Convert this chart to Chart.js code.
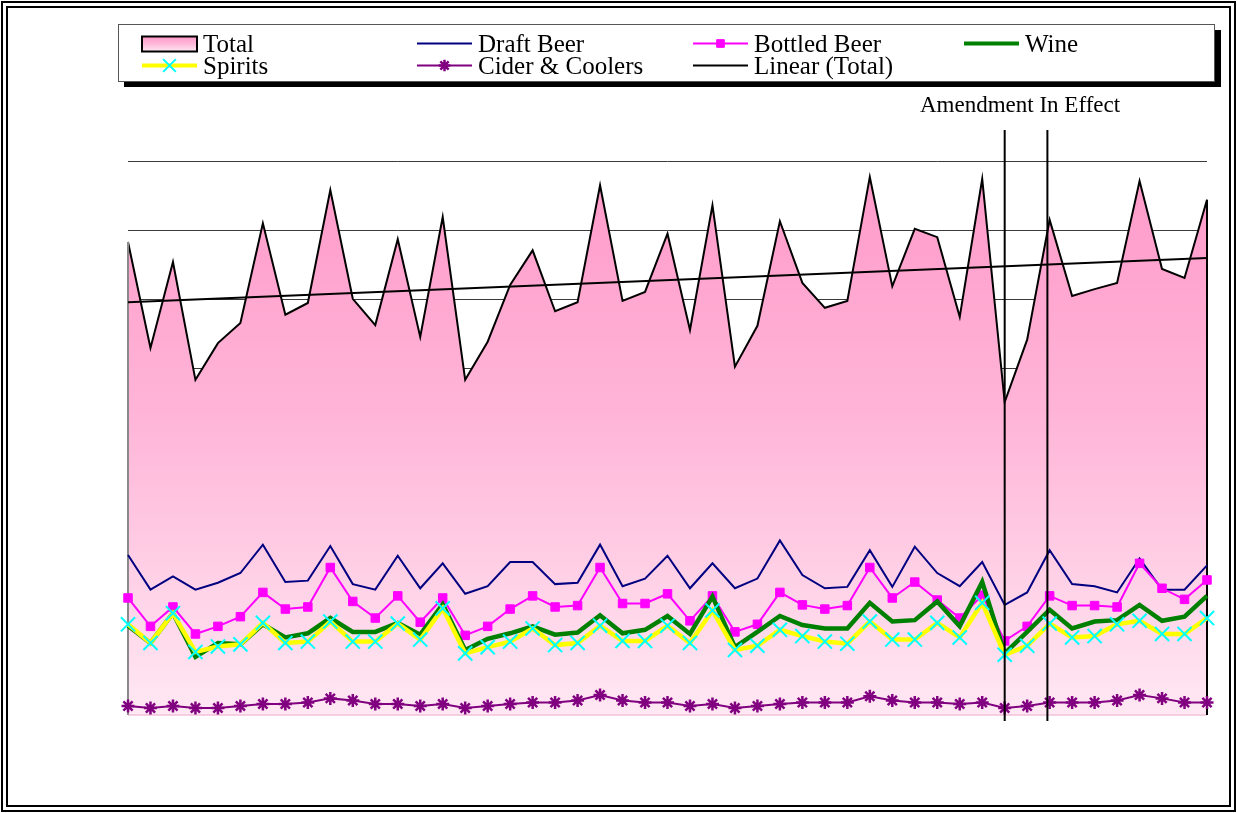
<!DOCTYPE html>
<html>
<head>
<meta charset="utf-8">
<title>Sales by category</title>
<script src="https://cdn.jsdelivr.net/npm/chart.js@4/dist/chart.umd.min.js"></script>
<style>
  html, body { margin: 0; padding: 0; background: #fff; }
  #wrap { position: relative; width: 1237px; height: 813px; }
</style>
</head>
<body>
<div id="wrap"><canvas id="chart"></canvas></div>
<script>
// periods along the x axis (the original shows no labels for them)
const periods = [1, 2, 3, 4, 5, 6, 7, 8, 9, 10, 11, 12, 13, 14, 15, 16, 17, 18, 19, 20,
  21, 22, 23, 24, 25, 26, 27, 28, 29, 30, 31, 32, 33, 34, 35, 36, 37, 38, 39, 40,
  41, 42, 43, 44, 45, 46, 47, 48, 49];

const total = [683, 530, 654, 484, 537, 566, 710, 578, 595, 758, 601, 563, 687, 546, 719, 484, 539,
  621, 671, 583, 596, 765, 598, 611, 695, 556, 736, 503, 562, 713, 624, 588, 598, 777, 619, 702, 690,
  575, 774, 452, 542, 715, 605, 615, 624, 771, 644, 631, 744];
const draftBeer = [231, 181, 200, 181, 191, 205, 246, 192, 194, 244, 189, 181, 230, 183, 219, 175, 186,
  221, 221, 189, 191, 246, 186, 197, 230, 183, 219, 183, 197, 252, 202, 183, 185, 238, 185, 243, 205,
  186, 221, 159, 177, 238, 189, 186, 177, 226, 181, 181, 216];
const bottledBeer = [169, 128, 156, 117, 128, 142, 177, 153, 156, 213, 164, 140, 172, 134, 169, 115, 128,
  153, 172, 156, 158, 213, 161, 161, 175, 136, 172, 120, 131, 177, 159, 153, 158, 213, 169, 192, 166,
  140, 173, 107, 128, 172, 158, 158, 156, 219, 183, 167, 195];
const wine = [129, 104, 147, 84, 104, 102, 131, 112, 118, 140, 120, 120, 133, 116, 160, 94, 110,
  118, 128, 116, 119, 144, 118, 123, 143, 117, 171, 98, 120, 143, 130, 125, 125, 162, 135, 137, 164,
  128, 192, 89, 120, 152, 125, 135, 137, 159, 136, 142, 172];
const spirits = [131, 104, 147, 91, 99, 102, 133, 104, 106, 135, 106, 106, 132, 109, 154, 89, 98,
  106, 125, 101, 104, 129, 107, 107, 129, 104, 151, 94, 100, 123, 114, 106, 103, 135, 109, 109, 133,
  112, 162, 87, 100, 132, 112, 114, 131, 136, 117, 117, 140];
const ciderCoolers = [13, 10, 13, 10, 10, 13, 16, 16, 18, 24, 21, 16, 16, 13, 16, 10, 13,
  16, 18, 18, 21, 29, 21, 18, 18, 13, 16, 10, 13, 16, 18, 18, 18, 27, 21, 18, 18,
  16, 18, 10, 13, 18, 18, 18, 21, 29, 24, 18, 18];

// start and end of the linear trend of Total
const totalTrend = [596, 660];

// value axis (no tick labels are printed, only gridlines)
const yMin = 0;
const yMax = 800;
const yStep = 100;

// the two amendment markers, in period-index units
const amendmentAt = [39, 40.9];
const amendmentText = 'Amendment In Effect';

const SERIF = '"Liberation Serif", "Times New Roman", serif';

function pinkGradient(ctx, top, bottom) {
  const g = ctx.createLinearGradient(0, top, 0, bottom);
  g.addColorStop(0, '#ff99c9');
  g.addColorStop(0.45, '#ffb4d7');
  g.addColorStop(1, '#ffe8f3');
  return g;
}

const last = periods.length - 1;
const trendData = periods.map((p, i) => i === 0 ? totalTrend[0] : (i === last ? totalTrend[1] : null));

// edges of the Total area: grey left side, black right side, pale pink floor
const areaEdges = {
  id: 'areaEdges',
  afterDatasetDraw(chart, args) {
    if (chart.data.datasets[args.index].label !== 'Total') return;
    const pts = args.meta.data;
    const a = pts[0], b = pts[pts.length - 1];
    const bottom = chart.chartArea.bottom;
    const ctx = chart.ctx;
    ctx.save();
    ctx.lineWidth = 1.5;
    ctx.strokeStyle = '#f0c2d8';
    ctx.beginPath(); ctx.moveTo(a.x, bottom); ctx.lineTo(b.x, bottom); ctx.stroke();
    ctx.lineWidth = 2;
    ctx.strokeStyle = '#8a8a8a';
    ctx.beginPath(); ctx.moveTo(a.x, a.y); ctx.lineTo(a.x, bottom); ctx.stroke();
    ctx.strokeStyle = '#000';
    ctx.beginPath(); ctx.moveTo(b.x, b.y); ctx.lineTo(b.x, bottom); ctx.stroke();
    ctx.restore();
  }
};

const amendment = {
  id: 'amendment',
  afterDatasetsDraw(chart) {
    const ctx = chart.ctx, area = chart.chartArea, x = chart.scales.x;
    const xs = amendmentAt.map(v => x.getPixelForValue(v));
    ctx.save();
    ctx.strokeStyle = '#000';
    ctx.lineWidth = 2;
    xs.forEach(px => {
      ctx.beginPath();
      ctx.moveTo(px, area.top - 31);
      ctx.lineTo(px, area.bottom + 6);
      ctx.stroke();
    });
    ctx.fillStyle = '#000';
    ctx.font = '23px ' + SERIF;
    ctx.textAlign = 'center';
    ctx.textBaseline = 'alphabetic';
    ctx.fillText(amendmentText, (xs[0] + xs[1]) / 2 - 6, area.top - 49);
    ctx.restore();
  }
};

// legend in a box with a drop shadow, four fixed columns and two rows
const legendCols = [142, 417, 693, 964];
const legendRows = [43.5, 65.5];
const legendSlots = {
  'Total': [0, 0], 'Draft Beer': [1, 0], 'Bottled Beer': [2, 0], 'Wine': [3, 0],
  'Spirits': [0, 1], 'Cider & Coolers': [1, 1], 'Linear (Total)': [2, 1]
};

const boxLegend = {
  id: 'boxLegend',
  afterDraw(chart) {
    const ctx = chart.ctx;
    ctx.save();
    ctx.fillStyle = '#000';
    ctx.fillRect(124, 30, 1097, 57);
    ctx.fillStyle = '#fff';
    ctx.fillRect(118, 24, 1096, 57);
    ctx.strokeStyle = '#555';
    ctx.lineWidth = 1;
    ctx.strokeRect(118.5, 24.5, 1096, 57);

    chart.data.datasets.forEach(ds => {
      const slot = legendSlots[ds.label];
      if (!slot) return;
      const x0 = legendCols[slot[0]], y = legendRows[slot[1]];
      if (ds.label === 'Total') {
        ctx.fillStyle = pinkGradient(ctx, y - 7, y + 8);
        ctx.fillRect(x0, y - 7, 55, 15);
        ctx.strokeStyle = '#000';
        ctx.lineWidth = 2;
        ctx.strokeRect(x0, y - 7, 55, 15);
      } else {
        ctx.strokeStyle = ds.borderColor;
        ctx.lineWidth = Math.min(ds.borderWidth, 4);
        ctx.beginPath(); ctx.moveTo(x0, y); ctx.lineTo(x0 + 55, y); ctx.stroke();
        if (ds.pointRadius > 0 && Chart.helpers && Chart.helpers.drawPoint) {
          ctx.fillStyle = ds.pointBackgroundColor;
          ctx.strokeStyle = ds.pointBorderColor;
          ctx.lineWidth = ds.pointBorderWidth;
          Chart.helpers.drawPoint(ctx, {
            pointStyle: ds.pointStyle, rotation: 0,
            radius: ds.pointRadius * 0.9, borderWidth: ds.pointBorderWidth
          }, x0 + 27.5, y);
        }
      }
      ctx.fillStyle = '#000';
      ctx.font = '25px ' + SERIF;
      ctx.textAlign = 'left';
      ctx.textBaseline = 'alphabetic';
      ctx.fillText(ds.label, x0 + 61, y + 8);
    });

    // double frame round the whole chart
    const w = chart.width, h = chart.height;
    ctx.strokeStyle = '#000';
    ctx.lineWidth = 2;
    ctx.strokeRect(2, 2, w - 4, h - 4);
    ctx.strokeRect(7, 7, w - 14, h - 14);
    ctx.restore();
  }
};

const ctx = document.getElementById('chart').getContext('2d');

new Chart(ctx, {
  type: 'line',
  data: {
    labels: periods,
    datasets: [
      {
        label: 'Total', data: total, order: 6,
        borderColor: '#000', borderWidth: 2, pointRadius: 0, fill: 'origin',
        backgroundColor: c => {
          const area = c.chart.chartArea;
          if (!area) return '#ffb4d7';
          return pinkGradient(c.chart.ctx, area.top, area.bottom);
        }
      },
      {
        label: 'Draft Beer', data: draftBeer, order: 5,
        borderColor: '#000080', borderWidth: 2, pointRadius: 0
      },
      {
        label: 'Bottled Beer', data: bottledBeer, order: 4,
        borderColor: '#ff00ff', borderWidth: 2,
        pointStyle: 'rect', pointRadius: 6,
        pointBackgroundColor: '#ff00ff', pointBorderColor: '#ff00ff', pointBorderWidth: 1
      },
      {
        label: 'Wine', data: wine, order: 3,
        borderColor: '#008000', borderWidth: 4.5, pointRadius: 0
      },
      {
        label: 'Spirits', data: spirits, order: 2,
        borderColor: '#ffff00', borderWidth: 4.5,
        pointStyle: 'crossRot', pointRadius: 10,
        pointBackgroundColor: '#00ffff', pointBorderColor: '#00ffff', pointBorderWidth: 2
      },
      {
        label: 'Cider & Coolers', data: ciderCoolers, order: 1,
        borderColor: '#800080', borderWidth: 2,
        pointStyle: 'star', pointRadius: 6.5,
        pointBackgroundColor: '#800080', pointBorderColor: '#800080', pointBorderWidth: 2.5
      },
      {
        label: 'Linear (Total)', data: trendData, order: 0, spanGaps: true,
        borderColor: '#000', borderWidth: 2, pointRadius: 0
      }
    ]
  },
  options: {
    responsive: true,
    maintainAspectRatio: false,
    animation: false,
    events: [],
    layout: { padding: { left: 128, right: 30, top: 161, bottom: 98 } },
    elements: { line: { tension: 0 } },
    datasets: { line: { clip: false } },
    plugins: {
      legend: { display: false },
      title: { display: false },
      tooltip: { enabled: false }
    },
    scales: {
      x: {
        offset: false,
        ticks: { display: false },
        grid: { display: false, drawTicks: false },
        border: { display: false }
      },
      y: {
        min: yMin, max: yMax,
        ticks: { display: false, stepSize: yStep },
        grid: {
          drawTicks: false,
          lineWidth: 1,
          color: c => c.tick && c.tick.value === yMin ? 'rgba(0,0,0,0)' : '#3a3a3a'
        },
        border: { display: false }
      }
    }
  },
  plugins: [areaEdges, amendment, boxLegend]
});
</script>
</body>
</html>
